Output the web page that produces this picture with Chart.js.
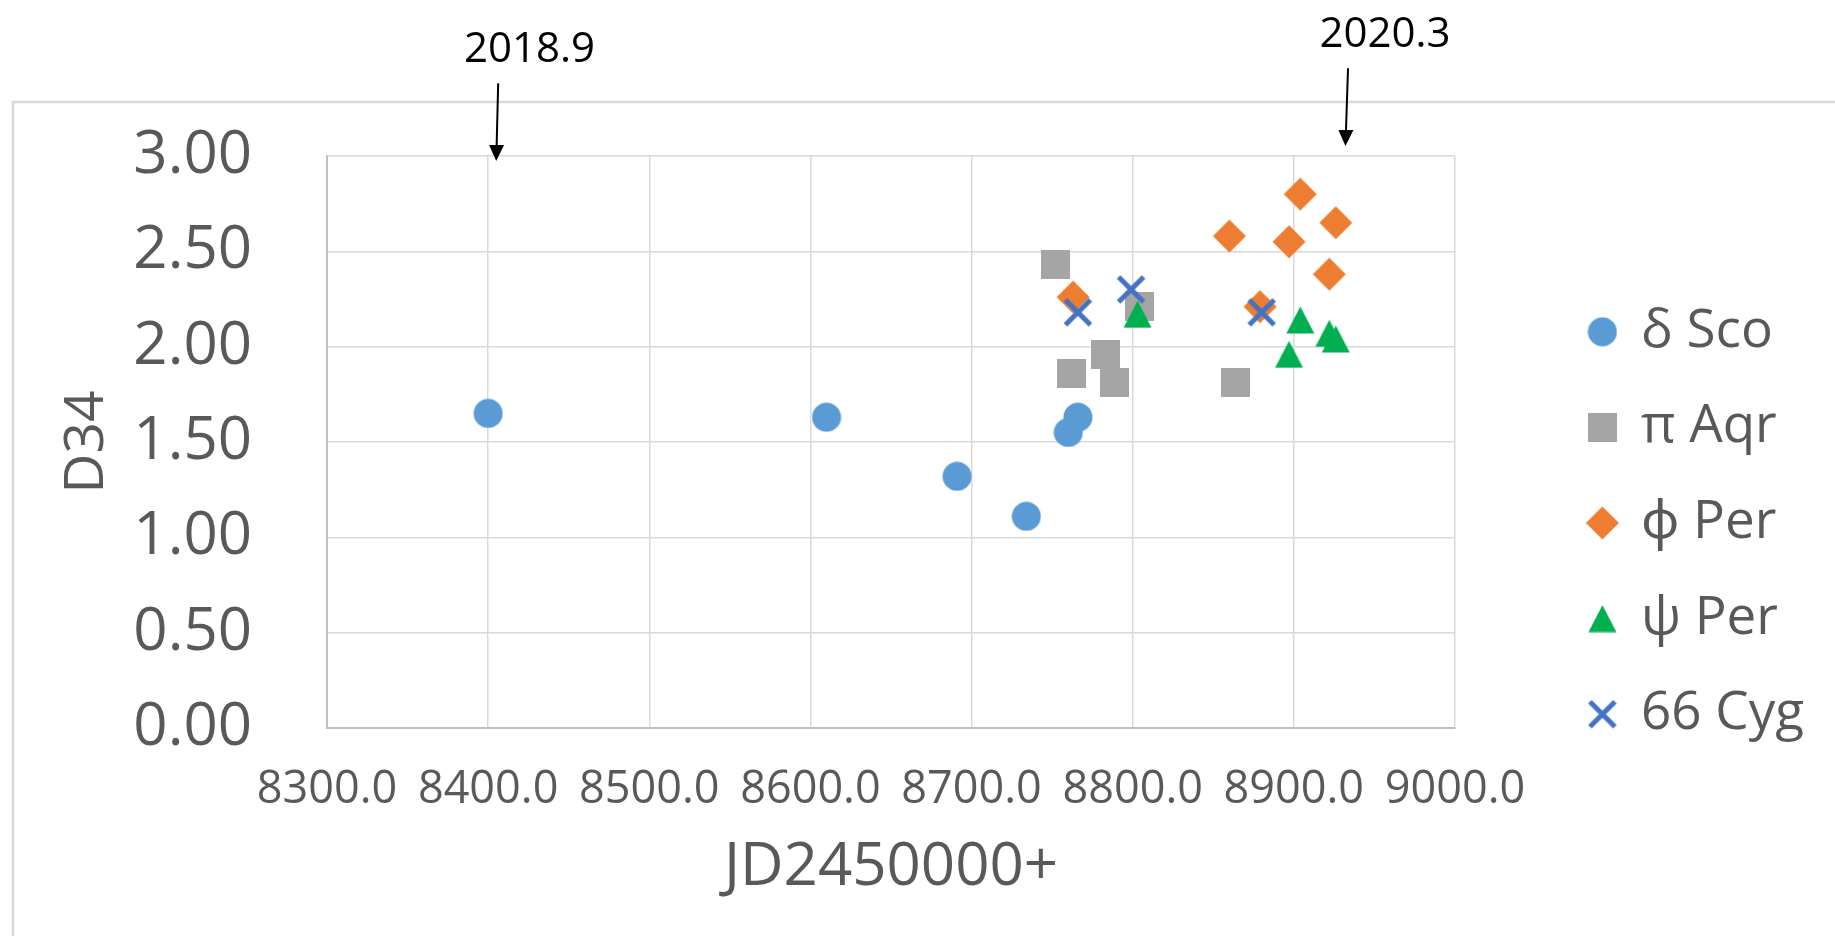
<!DOCTYPE html>
<html>
<head>
<meta charset="utf-8">
<script src="https://cdn.jsdelivr.net/npm/chart.js@4/dist/chart.umd.min.js"></script>
<style>
  html, body { margin: 0; padding: 0; background: #ffffff; }
  #wrap { width: 1835px; height: 936px; position: relative; }
</style>
</head>
<body>
<div id="wrap"><canvas id="c" width="1835" height="936"></canvas></div>
<script>
// ---- data ----
const seriesNames = ['δ Sco', 'π Aqr', 'ϕ Per', 'ψ Per', '66 Cyg'];

const scoX = [8400, 8610, 8691, 8734, 8760, 8766];
const scoY = [1.65, 1.63, 1.32, 1.11, 1.55, 1.63];

const aqrX = [8752, 8762, 8783, 8789, 8804, 8864];
const aqrY = [2.43, 1.86, 1.96, 1.81, 2.21, 1.81];

const phiPerX = [8763, 8860, 8879, 8897, 8904, 8922, 8926];
const phiPerY = [2.26, 2.58, 2.21, 2.55, 2.80, 2.38, 2.65];

const psiPerX = [8803, 8897, 8904, 8922, 8926];
const psiPerY = [2.17, 1.96, 2.14, 2.07, 2.04];

const cygX = [8766, 8799, 8880];
const cygY = [2.18, 2.30, 2.18];

const xTickValues = [8300, 8400, 8500, 8600, 8700, 8800, 8900, 9000];
const yTickValues = [0, 0.5, 1.0, 1.5, 2.0, 2.5, 3.0];

const annotationText = ['2018.9', '2020.3'];
const annotationJD = [8405, 8932];

// ---- marker images (Excel-like) ----
function makeMarker(kind, color) {
  const c = document.createElement('canvas');
  let w = 30, h = 30;
  if (kind === 'square') { w = 29; h = 29; }
  if (kind === 'diamond') { w = 34; h = 34; }
  if (kind === 'triangle') { w = 29; h = 28; }
  if (kind === 'x') { w = 32; h = 32; }
  c.width = w; c.height = h;
  const g = c.getContext('2d');
  g.fillStyle = color; g.strokeStyle = color;
  g.beginPath();
  if (kind === 'circle') {
    g.arc(15, 15, 14.5, 0, Math.PI * 2); g.fill();
  } else if (kind === 'square') {
    g.fillRect(0, 0, 29, 29);
  } else if (kind === 'diamond') {
    g.moveTo(17, 0.5); g.lineTo(33.5, 17); g.lineTo(17, 33.5); g.lineTo(0.5, 17); g.closePath(); g.fill();
  } else if (kind === 'triangle') {
    g.moveTo(14.5, 0.5); g.lineTo(28.5, 27.5); g.lineTo(0.5, 27.5); g.closePath(); g.fill();
  } else if (kind === 'x') {
    g.lineWidth = 5; g.lineCap = 'butt';
    g.moveTo(3.5, 3.5); g.lineTo(28.5, 28.5);
    g.moveTo(28.5, 3.5); g.lineTo(3.5, 28.5);
    g.stroke();
  }
  return c;
}

const colors = ['#5B9BD5', '#A5A5A5', '#ED7D31', '#00B050', '#4472C4'];
const kinds = ['circle', 'square', 'diamond', 'triangle', 'x'];
const xs = [scoX, aqrX, phiPerX, psiPerX, cygX];
const ys = [scoY, aqrY, phiPerY, psiPerY, cygY];

const datasets = seriesNames.map((name, i) => ({
  label: name,
  data: xs[i].map((x, k) => ({ x: x, y: ys[i][k] })),
  pointStyle: makeMarker(kinds[i], colors[i]),
  pointRadius: 14,
  pointHoverRadius: 14,
  backgroundColor: colors[i],
  borderColor: colors[i],
  showLine: false,
  xAxisID: 'x',
  yAxisID: 'y',
  order: seriesNames.length - i
}));

Chart.defaults.font.family = "'Open Sans', 'Noto Sans', sans-serif";
Chart.defaults.color = '#595959';

const framePlugin = {
  id: 'frame',
  beforeDraw(chart) {
    const ctx = chart.ctx;
    ctx.save();
    ctx.fillStyle = '#ffffff';
    ctx.fillRect(0, 0, chart.width, chart.height);
    ctx.strokeStyle = '#d9d9d9';
    ctx.lineWidth = 2.5;
    ctx.beginPath();
    ctx.moveTo(13, chart.height + 5);
    ctx.lineTo(13, 102);
    ctx.lineTo(chart.width + 5, 102);
    ctx.stroke();
    ctx.restore();
  }
};

const arrowPlugin = {
  id: 'arrows',
  afterDraw(chart, args, opts) {
    const ctx = chart.ctx;
    const xs = chart.scales.x;
    const top = chart.chartArea.top;
    ctx.save();
    annotationText.forEach((t, i) => {
      const a = opts.arrows[i];
      const tipX = xs.getPixelForValue(annotationJD[i]);
      const tipY = top + a.tipDy;
      const startX = tipX + a.lean;
      const startY = tipY - a.len;
      const head = 16;
      const f = head / a.len;
      ctx.strokeStyle = '#000';
      ctx.fillStyle = '#000';
      ctx.lineWidth = 2;
      ctx.beginPath();
      ctx.moveTo(startX, startY);
      ctx.lineTo(tipX + a.lean * f, tipY - head + 1);
      ctx.stroke();
      ctx.beginPath();
      ctx.moveTo(tipX, tipY);
      ctx.lineTo(tipX + a.lean * f - 7.5, tipY - head);
      ctx.lineTo(tipX + a.lean * f + 7.5, tipY - head);
      ctx.closePath();
      ctx.fill();
      ctx.font = "42px 'Open Sans', sans-serif";
      ctx.textAlign = 'center';
      ctx.textBaseline = 'alphabetic';
      ctx.fillText(t, startX + a.textDx, startY - 21.6);
    });
    ctx.restore();
  }
};

const RIGHT_PAD = 21;

new Chart(document.getElementById('c'), {
  type: 'scatter',
  data: { datasets: datasets },
  plugins: [framePlugin, arrowPlugin],
  options: {
    responsive: false,
    devicePixelRatio: 1,
    animation: false,
    events: [],
    layout: { padding: { left: 0, top: 156, right: RIGHT_PAD, bottom: 46 } },
    plugins: {
      tooltip: { enabled: false },
      arrows: {
        arrows: [
          { tipDy: 5, len: 77.7, lean: 2.0, textDx: 31.3 },
          { tipDy: -10, len: 77.7, lean: 2.6, textDx: 37.0 }
        ]
      },
      legend: {
        display: true,
        position: 'right',
        align: 'center',
        labels: {
          usePointStyle: true,
          boxWidth: 24,
          boxHeight: 24,
          padding: 42.6,
          color: '#595959',
          font: { size: 53 },
          sort: (a, b) => a.datasetIndex - b.datasetIndex
        }
      }
    },
    scales: {
      x: {
        type: 'linear',
        position: 'bottom',
        min: xTickValues[0],
        max: xTickValues[xTickValues.length - 1],
        afterBuildTicks: s => { s.ticks = xTickValues.map(v => ({ value: v })); },
        afterFit: s => { s.height = 162; },
        grid: { color: '#d9d9d9', lineWidth: 1.5, drawTicks: false },
        border: { display: true, color: '#bfbfbf', width: 2 },
        ticks: {
          autoSkip: false,
          maxRotation: 0,
          minRotation: 0,
          padding: 35,
          color: '#595959',
          font: { size: 45 },
          callback: v => Number(v).toFixed(1)
        },
        title: {
          display: true,
          text: 'JD2450000+',
          color: '#595959',
          font: { size: 60, lineHeight: 1.0 },
          padding: { top: 0, bottom: -8 }
        }
      },
      y: {
        type: 'linear',
        position: 'left',
        min: yTickValues[0],
        max: yTickValues[yTickValues.length - 1],
        afterBuildTicks: s => { s.ticks = yTickValues.map(v => ({ value: v })); },
        afterFit: s => { s.width = 327; },
        grid: { color: '#d9d9d9', lineWidth: 1.5, drawTicks: false },
        border: { display: true, color: '#bfbfbf', width: 2 },
        ticks: {
          padding: 75,
          color: '#595959',
          font: { size: 60 },
          callback: v => Number(v).toFixed(2)
        },
        title: {
          display: true,
          text: 'D34',
          color: '#595959',
          font: { size: 55 },
          padding: { top: 54, bottom: 0 }
        }
      },
      y2: {
        type: 'linear',
        position: 'right',
        display: true,
        grid: { display: false, drawTicks: false },
        border: { display: false },
        ticks: { display: false },
        title: { display: false },
        afterFit: s => {
          const lw = (s.chart.legend && s.chart.legend.width) || 0;
          s.width = Math.max(0, 1835 - 1455 - RIGHT_PAD - lw);
        }
      }
    }
  }
});
</script>
</body>
</html>
